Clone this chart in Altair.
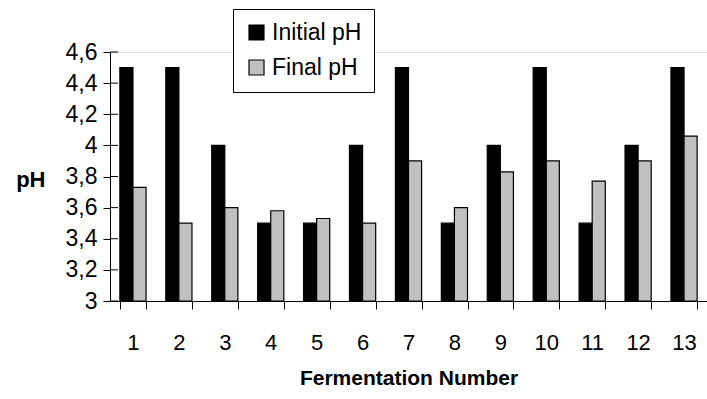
import altair as alt
import pandas as pd

fermentation = [str(i) for i in range(1, 14)]
initial_ph = [4.5, 4.5, 4.0, 3.5, 3.5, 4.0, 4.5, 3.5, 4.0, 4.5, 3.5, 4.0, 4.5]
final_ph = [3.73, 3.5, 3.6, 3.58, 3.53, 3.5, 3.9, 3.6, 3.83, 3.9, 3.77, 3.9, 4.06]
series = ["Initial pH", "Final pH"]
y_ticks = [3, 3.2, 3.4, 3.6, 3.8, 4, 4.2, 4.4, 4.6]

rows = []
for f, a, b in zip(fermentation, initial_ph, final_ph):
    rows.append({"Fermentation": f, "Series": series[0], "pH": a})
    rows.append({"Fermentation": f, "Series": series[1], "pH": b})
df = pd.DataFrame(rows)
ticks_df = pd.DataFrame({"pH": y_ticks})

font = "Liberation Sans"
y_scale = alt.Scale(domain=[3, 4.6], nice=False, zero=False)
y_axis = alt.Axis(title="pH", titleAngle=0, values=y_ticks,
                  labelExpr="replace(format(datum.value, '.1~f'), '.', ',')",
                  labelOverlap=False, ticks=True, tickWidth=1,
                  labelFontSize=23, labelFont=font, labelColor="black",
                  titleFontSize=22, titleFont=font, titleFontWeight="bold",
                  titleColor="black", titleAlign="right", titleBaseline="middle",
                  titleY=127, titleX=-65,
                  domainColor="black", tickColor="black", tickSize=7,
                  labelPadding=6, grid=False)

bars = alt.Chart(df).mark_bar(stroke="black", strokeWidth=1.2).encode(
    x=alt.X("Fermentation:N", sort=fermentation,
            scale=alt.Scale(paddingInner=0.43, paddingOuter=0.215),
            axis=alt.Axis(title="Fermentation Number", labelAngle=0, tickBand="extent",
                          labelFontSize=22, labelFont=font, labelColor="black",
                          titleFontSize=21, titleFont=font, titleFontWeight="bold",
                          titleColor="black", titlePadding=14, labelPadding=23,
                          domainColor="black", tickColor="black", tickSize=8,
                          grid=False)),
    xOffset=alt.XOffset("Series:N", sort=series),
    y=alt.Y("pH:Q", scale=y_scale, axis=y_axis),
    y2=alt.Y2(datum=3),
    color=alt.Color("Series:N", sort=series,
                    scale=alt.Scale(domain=series, range=["#000000", "#c0c0c0"]),
                    legend=alt.Legend(title=None, orient="none", legendX=123, legendY=-43,
                                      symbolType="square", symbolSize=225,
                                      symbolStrokeColor="black", symbolStrokeWidth=1.2,
                                      labelFontSize=23, labelFont=font, labelColor="black",
                                      rowPadding=11, padding=12, strokeColor="black",
                                      fillColor="white", symbolOffset=0, labelOffset=4)),
)

inner_ticks = alt.Chart(ticks_df).mark_rule(color="black", strokeWidth=1).encode(
    y=alt.Y("pH:Q", scale=y_scale, axis=y_axis),
    x=alt.value(0),
    x2=alt.value(8),
)

chart = alt.layer(bars, inner_ticks).properties(width=597, height=249)

chart = chart.configure_view(stroke=None).configure_axisY(
    labelOverlap=False, ticks=True, tickSize=7, tickColor="black"
).configure(
    autosize=alt.AutoSizeParams(type="none"),
    padding={"left": 110, "top": 52, "right": 0, "bottom": 98})

chart.save("out.html", embed_options={"renderer": "svg", "actions": False})
